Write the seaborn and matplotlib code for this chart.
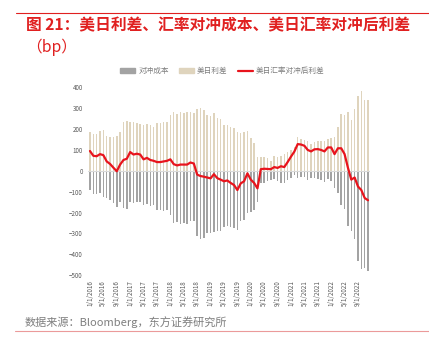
import numpy as np
import pandas as pd
import seaborn as sns
import matplotlib
matplotlib.use('Agg')
import matplotlib.pyplot as plt
from matplotlib.patches import Patch
from matplotlib.lines import Line2D

# 月度数据 2016-01 ~ 2022-12，单位 bp
months = pd.date_range('2016-01-01', '2022-12-01', freq='MS')

# 美日利差
us_jp_spread = [184, 178, 177, 190, 196, 167, 162, 162, 167, 188, 235, 240, 235, 232,
                231, 225, 218, 223, 220, 212, 228, 231, 236, 236, 268, 281, 271, 284, 279, 284,
                281, 276, 295, 303, 292, 268, 263, 276, 252, 247, 220, 220, 212, 204,
                188, 183, 188, 191, 156, 132, 65, 65, 65, 61, 45, 69, 65, 72, 81, 88,
                100, 112, 164, 154, 150, 142, 128, 136, 143, 142, 145, 152, 159, 164,
                212, 273, 265, 280, 244, 296, 359, 380, 337, 337]

# 对冲成本
hedge_cost = [-91, -110, -110, -104, -123, -128, -139, -152, -171, -147, -179, -184, -147, -155,
              -149, -147, -163, -161, -168, -164, -186, -189, -191, -188, -213, -249, -245, -254, -249, -254,
              -241, -241, -313, -328, -320, -300, -299, -292, -287, -289, -270, -266, -270, -272,
              -282, -242, -234, -203, -195, -187, -147, -59, -56, -51, -43, -40, -51, -59, -59, -43,
              -32, -20, -36, -28, -30, -42, -35, -33, -39, -42, -52, -40, -47, -84,
              -104, -165, -185, -265, -286, -328, -434, -472, -467, -478]

# 美日汇率对冲后利差
hedged_spread = [95, 72, 70, 80, 75, 45, 33, 15, -2, 30, 52, 58, 90, 78,
                 82, 78, 55, 62, 52, 48, 42, 42, 45, 48, 55, 32, 26, 30, 30, 30,
                 40, 35, -18, -25, -28, -32, -36, -16, -35, -42, -50, -46, -58, -68,
                 -92, -60, -50, -12, -42, -58, -84, 8, 10, 9, 8, 18, 14, 22, 18, 42,
                 68, 92, 128, 126, 120, 100, 93, 103, 104, 100, 93, 112, 112, 80,
                 108, 108, 80, 15, -42, -32, -75, -92, -130, -141]

tick_labels = ['1/1/2016', '5/1/2016', '9/1/2016', '1/1/2017', '5/1/2017', '9/1/2017',
               '1/1/2018', '5/1/2018', '9/1/2018', '1/1/2019', '5/1/2019', '9/1/2019',
               '1/1/2020', '5/1/2020', '9/1/2020', '1/1/2021', '5/1/2021', '9/1/2021',
               '1/1/2022', '5/1/2022', '9/1/2022']

df = pd.DataFrame({'month': months.strftime('%Y-%m'),
                   'spread': us_jp_spread,
                   'cost': hedge_cost,
                   'hedged': hedged_spread})

sns.set_style('white')
plt.rcParams['font.family'] = ['Noto Sans CJK SC', 'DejaVu Sans']

beige = '#dfd4bd'
gray = '#a3a3a3'
red = '#e8141c'
txt = '#7f7f7f'

fig = plt.figure(figsize=(4.29, 3.52), dpi=100)
ax = fig.add_axes([0.2058, 0.218, 0.656, 0.534])

sns.barplot(data=df, x='month', y='spread', color=beige, width=0.45,
            saturation=1, errorbar=None, linewidth=0, ax=ax)
sns.barplot(data=df, x='month', y='cost', color=gray, width=0.45,
            saturation=1, errorbar=None, linewidth=0, ax=ax)
ax.axhline(0, color='#d9d9d9', lw=0.8, zorder=1)
sns.lineplot(x=np.arange(len(df)), y=df['hedged'], color=red, lw=1.6, ax=ax,
             solid_joinstyle='round')

ax.set_xlim(-0.5, len(df) - 0.5)
ax.set_ylim(-500, 400)
ax.set_yticks(range(-500, 401, 100))
ax.set_xticks(range(0, 81, 4))
ax.set_xticklabels(tick_labels, rotation=90)
ax.tick_params(axis='both', length=0, labelsize=4.5, labelcolor='#595959')
ax.tick_params(axis='y', pad=4)
ax.tick_params(axis='x', pad=3.5)
ax.set_xlabel('')
ax.set_ylabel('')
sns.despine(ax=ax, left=True, bottom=True)

handles = [Patch(color=gray), Patch(color=beige), Line2D([], [], color=red, lw=1.6)]
fig.legend(handles, ['对冲成本', '美日利差', '美日汇率对冲后利差'],
           loc='center', bbox_to_anchor=(0.518, 0.798), ncol=3, frameon=False,
           fontsize=5.5, handlelength=2, handleheight=0.5, columnspacing=1.3,
           handletextpad=0.4, labelcolor=txt)

# 标题与来源
fig.add_artist(Line2D([0.037, 1.0], [0.964, 0.964], color='#e02020', lw=0.8,
                      transform=fig.transFigure))
fig.text(0.061, 0.929, '图 21：美日利差、汇率对冲成本、美日汇率对冲后利差',
         color='#e02020', fontsize=11.3, fontweight='bold', va='center')
fig.text(0.061, 0.866, '（bp）', color='#e02020', fontsize=11.3, va='center')
fig.text(0.058, 0.085, '数据来源：Bloomberg，东方证券研究所', color=txt,
         fontsize=8, va='center')
fig.add_artist(Line2D([0.035, 1.0], [0.0605, 0.0605], color='#eb9a9a', lw=0.8,
                      transform=fig.transFigure))

fig.savefig('out.png', dpi=100)
